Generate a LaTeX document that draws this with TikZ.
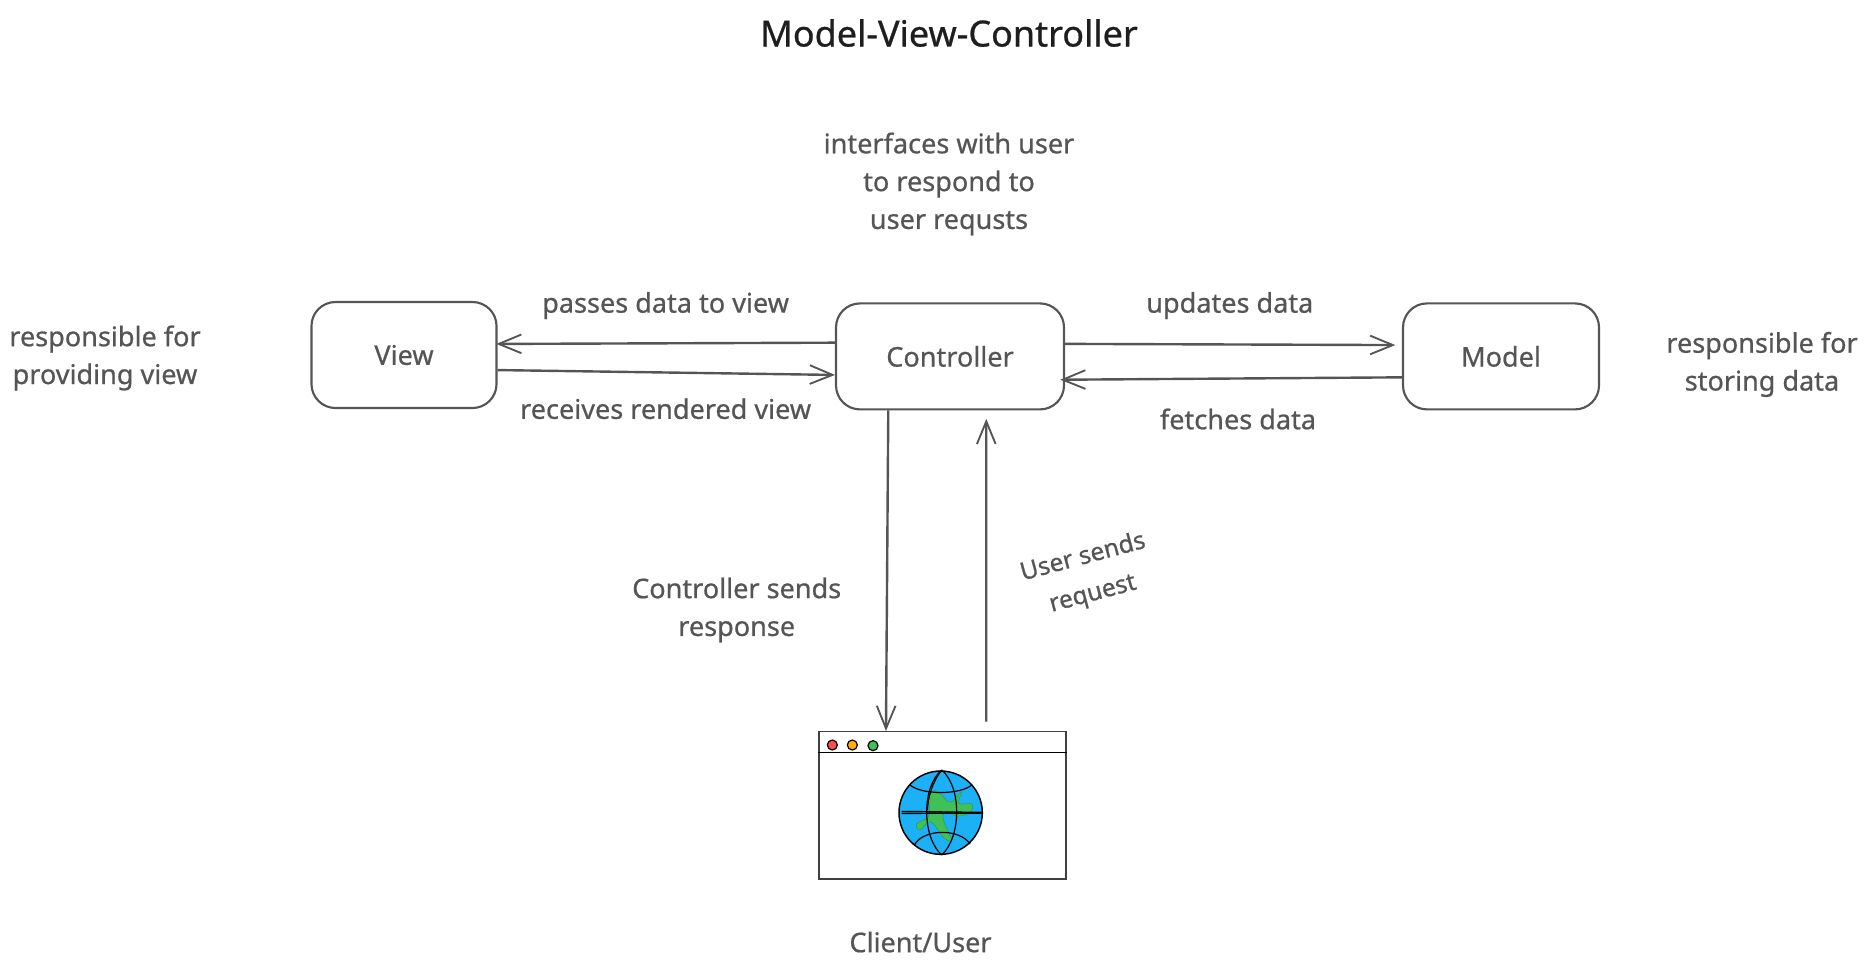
\documentclass[tikz,border=0pt]{standalone}
\usepackage{fontspec}
\setmainfont[FakeBold=0.7]{Noto Sans}
\usepackage{tikz}
\usetikzlibrary{positioning,arrows.meta}
\definecolor{inkgrey}{HTML}{555555}
\definecolor{titleink}{HTML}{1E1E1E}
\definecolor{globeblue}{HTML}{1CB0F6}
\definecolor{globegreen}{HTML}{40C057}
\definecolor{landedge}{HTML}{2F9E44}
\definecolor{dotred}{HTML}{FF4D4D}
\definecolor{dotamber}{HTML}{FFB000}
\tikzset{
  panel/.style={draw=inkgrey,line width=1.6pt,rounded corners=18pt,minimum height=79.5pt,text=inkgrey,font=\fontsize{20.3}{28.35}\selectfont,inner sep=0pt},
  link/.style={draw=inkgrey,line width=1.8pt,-{Straight Barb[length=17pt,width=14pt,line width=1.4pt]}},
  caption/.style={text=inkgrey,font=\fontsize{20.3}{28.35}\selectfont,align=center,inner sep=0pt},
  sketch/.style={draw=black,line width=0.9pt}
}
\begin{document}
\begin{tikzpicture}[x=0.75pt,y=0.75pt,yscale=-1,xscale=1]
        \useasboundingbox (0,0) rectangle (1872,971);

        %Shape: Rounded Rectangle
        \draw (404,355) node (view) [panel,minimum width=138.8pt] {View};
        %Shape: Rounded Rectangle
        \draw (950,356.4) node (controller) [panel,minimum width=171pt] {Controller};
        %Shape: Rounded Rectangle
        \draw (1501,356.4) node (model) [panel,minimum width=147pt] {Model};
        %Shape: Rectangle
        \draw (942.5,805.3) node (browser) [draw=black!75,line width=1pt,minimum width=185.25pt,minimum height=110.5pt,inner sep=0pt] {};

        %Straight Lines
        \draw [link] ([yshift=-10.3pt]controller.west) -- ([xshift=-1pt,yshift=-8.3pt]view.east);
        %Straight Lines
        \draw [link] ([yshift=11.3pt]view.east) -- ([yshift=13.9pt]controller.west);
        %Straight Lines
        \draw [link] ([yshift=-9.4pt]controller.east) -- ([xshift=-5pt,yshift=-8.5pt]model.west);
        %Straight Lines
        \draw [link] ([yshift=15.7pt]model.west) -- ([xshift=-3.6pt,yshift=17.5pt]controller.east);
        %Straight Lines
        \draw [link] ([xshift=-46.3pt]controller.south) -- ([xshift=-42.4pt]browser.north);
        %Straight Lines
        \draw [link] ([xshift=32.8pt,yshift=-7pt]browser.north) -- ([xshift=27.2pt,yshift=6.3pt]controller.south);

        %Browser icon, coordinates taken from the 3x crop
        \begin{scope}[shift={(800,720)},x=0.25pt,y=0.25pt]
        \draw [line width=1pt] (55,97) -- (800,97);
        \draw [sketch,fill=dotred] (97,75) circle (15);
        \draw [sketch,fill=dotamber] (157,75) circle (15);
        \draw [sketch,fill=globegreen] (219,77) circle (15);
        %globe
        \draw [sketch,fill=globeblue,line width=1.1pt] (422,278) circle (125);
        \draw [fill=globegreen,draw=landedge,line width=0.4pt] plot [smooth cycle,tension=0.6] coordinates {(385,225) (410,213) (445,245) (462,240) (485,215) (476,250) (515,252) (510,278) (470,288) (437,275) (430,300) (455,360) (430,352) (392,305) (360,330) (350,312) (385,290) (388,262)};
        \draw [sketch] (425,150) .. controls (365,200) and (365,350) .. (425,405);
        \draw [sketch] (425,150) .. controls (485,200) and (485,350) .. (425,405);
        \draw [sketch] (425,150) .. controls (395,190) and (385,230) .. (382,270);
        \draw [sketch] (330,195) .. controls (365,225) and (480,225) .. (515,195);
        \draw [sketch] (343,375) .. controls (370,325) and (480,325) .. (510,372);
        \draw [sketch] (305,274) -- (545,277);
        \draw [sketch,line width=1.1pt] (305,280) -- (545,279);
        \end{scope}

        % Text Node
        \draw (949,33) node (title) [caption,text=titleink,font=\fontsize{27}{32}\selectfont] {Model-View-Controller};
        % Text Node
        \draw (949,184) node (duties) [caption] {interfaces with user\\to respond to\\user requsts};
        % Text Node
        \draw (665.6,305.6) node (passes) [caption] {passes data to view};
        % Text Node
        \draw (665.6,408.7) node (receives) [caption] {receives rendered view};
        % Text Node
        \draw (1229.8,305.6) node (updates) [caption] {updates data};
        % Text Node
        \draw (1238,419) node (fetches) [caption] {fetches data};
        % Text Node
        \draw (105,358) node (viewnote) [caption] {responsible for\\providing view};
        % Text Node
        \draw (1762,364.5) node (modelnote) [caption] {responsible for\\storing data};
        % Text Node
        \draw (736.7,610) node (response) [caption] {Controller sends\\response};
        % Text Node
        \draw (1088,576) node (request) [caption,rotate=15,font=\fontsize{18.5}{28.35}\selectfont] {User sends\\request};
        % Text Node
        \draw (920.5,942) node (client) [caption] {Client/User};
\end{tikzpicture}
\end{document}
